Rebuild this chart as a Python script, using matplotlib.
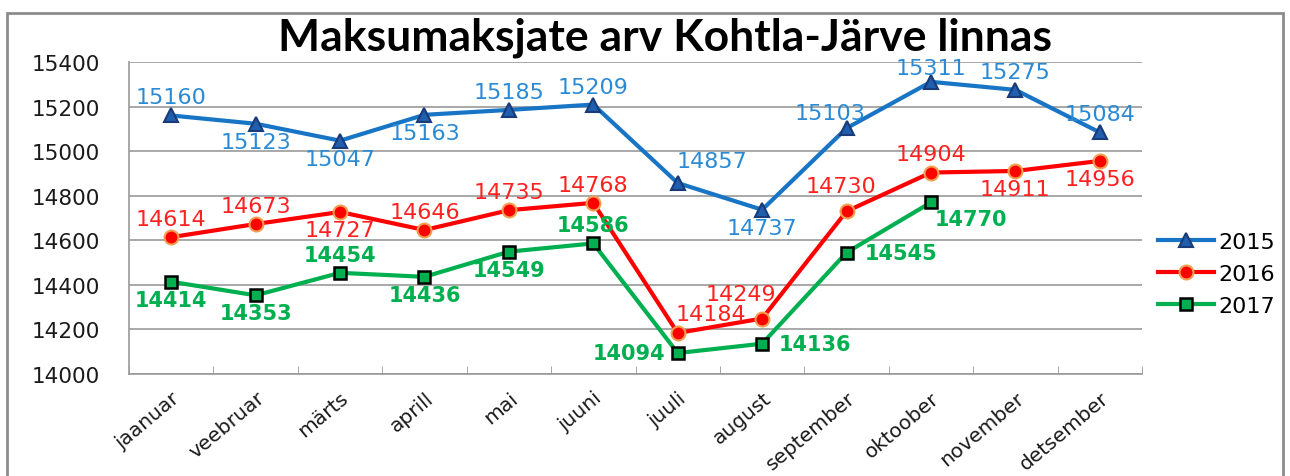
import matplotlib
matplotlib.use("Agg")
import matplotlib.pyplot as plt
from matplotlib.patches import Rectangle

months = ["jaanuar", "veebruar", "märts", "aprill", "mai", "juuni", "juuli",
          "august", "september", "oktoober", "november", "detsember"]
v2015 = [15160, 15123, 15047, 15163, 15185, 15209, 14857, 14737, 15103, 15311, 15275, 15084]
v2016 = [14614, 14673, 14727, 14646, 14735, 14768, 14184, 14249, 14730, 14904, 14911, 14956]
v2017 = [14414, 14353, 14454, 14436, 14549, 14586, 14094, 14136, 14545, 14770]
yticks = [14000, 14200, 14400, 14600, 14800, 15000, 15200, 15400]
title = "Maksumaksjate arv Kohtla-Järve linnas"

# label placement (offset in points, ha)
A, B = (0, 13, "center"), (0, -13, "center")
pos2015 = [A, B, B, B, A, A, (25, 16, "center"), B, (-12, 11, "center"), (0, 10, "center"), A, A]
pos2016 = [A, A, B, A, A, A, (24, 14, "center"), (-15, 18, "center"), (-4, 18, "center"), A, B, B]
pos2017 = [B, B, A, B, B, A, (-9, 0, "right"), (12, 0, "left"), (13, 0, "left"), (3, -12, "left")]

fig = plt.figure(figsize=(12.9, 4.77), dpi=100)
fig.patches.append(Rectangle((7/1290, -0.02), 1276/1290, 1.02 - 14/477,
                             transform=fig.transFigure, fill=False,
                             edgecolor="#8c8c8c", linewidth=2))
ax = fig.add_axes([129/1290, 102/477, 1013/1290, 312/477])

x15 = list(range(len(v2015)))
x16 = list(range(len(v2016)))
x17 = list(range(len(v2017)))

ax.plot(x15, v2015, color="#1874c4", lw=3, marker="^", ms=10,
        mfc="#1f5fae", mec="#1a3a78", mew=1.5, label="2015", zorder=3)
ax.plot(x16, v2016, color="#ff0000", lw=3, marker="o", ms=10,
        mfc="#ff0000", mec="#f0a050", mew=1.5, label="2016", zorder=3)
ax.plot(x17, v2017, color="#00b050", lw=3, marker="s", ms=9,
        mfc="#00b050", mec="#000000", mew=1.8, label="2017", zorder=3)

def labels(xs, vs, ps, color, weight, size):
    for x, v, (dx, dy, ha) in zip(xs, vs, ps):
        ax.annotate(str(v), (x, v), xytext=(dx, dy), textcoords="offset points",
                    ha=ha, va="center", color=color, fontsize=size,
                    fontweight=weight, zorder=4)

labels(x15, v2015, pos2015, "#2a8ad4", "normal", 16)
labels(x16, v2016, pos2016, "#ff2020", "normal", 16)
labels(x17, v2017, pos2017, "#00b050", "bold", 15)

ax.set_xlim(-0.5, len(months) - 0.5)
ax.set_ylim(yticks[0], yticks[-1])
ax.set_yticks(yticks)
ax.set_yticklabels([str(t) for t in yticks], fontsize=15.5, color="#1a1a1a")
ax.set_xticks(range(len(months)))
ax.set_xticklabels(months, rotation=40, ha="right", rotation_mode="anchor",
                   fontsize=14.5, color="#1a1a1a")
ax.set_xticks([i - 0.5 for i in range(len(months) + 1)], minor=True)
ax.tick_params(axis="x", which="major", length=0, pad=10)
ax.tick_params(axis="x", which="minor", length=6, direction="in", color="#9a9a9a")
ax.tick_params(axis="y", length=0, pad=21)
ax.grid(axis="y", color="#9a9a9a", lw=1.2)
ax.set_axisbelow(True)
for s in ["top", "right"]:
    ax.spines[s].set_visible(False)
for s in ["left", "bottom"]:
    ax.spines[s].set_color("#9a9a9a")
    ax.spines[s].set_linewidth(1.2)

leg = ax.legend(loc="center left", bbox_to_anchor=(1138/1290, 1 - 275/477),
                bbox_transform=fig.transFigure, frameon=False, fontsize=16,
                handlelength=2.5, handletextpad=0.2, labelspacing=0.55)

fig.text(665/1290, 1 - 38/477, title, ha="center", va="center",
         fontsize=32, fontweight="bold", family="Lato", color="#000000")

fig.savefig("out.png", dpi=100)
